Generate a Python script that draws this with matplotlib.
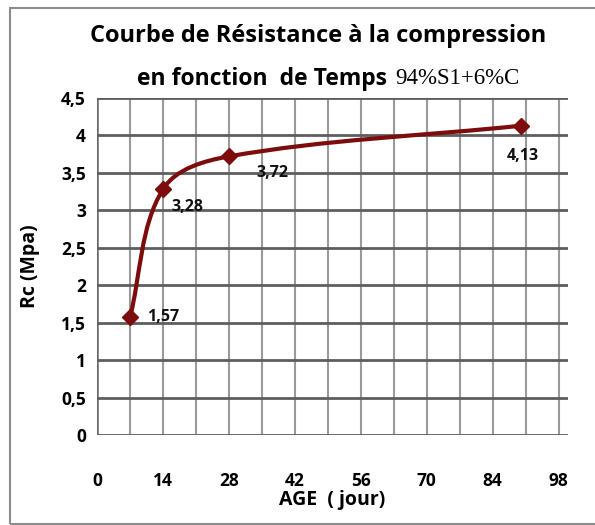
import numpy as np
import matplotlib.pyplot as plt
from matplotlib.path import Path
from matplotlib.patches import PathPatch, Rectangle

# age (jours) et resistance a la compression (MPa)
age = [7, 14, 28, 90]
rc = [1.57, 3.28, 3.72, 4.13]
labels = ['1,57', '3,28', '3,72', '4,13']

x_ticks = [0, 14, 28, 42, 56, 70, 84, 98]
y_ticks = [0, 0.5, 1, 1.5, 2, 2.5, 3, 3.5, 4, 4.5]
y_ticklabels = ['0', '0,5', '1', '1,5', '2', '2,5', '3', '3,5', '4', '4,5']

red = '#7d0c0c'
font = 'Open Sans'


def smooth_path(ax, xs, ys):
    # courbe lissee facon Excel : tangentes calculees en pixels,
    # points de controle a 1/3 de la longueur du segment
    tr = ax.transData
    p = tr.transform(np.column_stack([xs, ys]))
    n = len(p)
    tang = []
    for i in range(n):
        a = p[max(i - 1, 0)]
        b = p[min(i + 1, n - 1)]
        d = b - a
        tang.append(d / np.hypot(*d))
    verts = [p[0]]
    codes = [Path.MOVETO]
    for i in range(n - 1):
        L = np.hypot(*(p[i + 1] - p[i])) / 3
        verts += [p[i] + tang[i] * L, p[i + 1] - tang[i + 1] * L, p[i + 1]]
        codes += [Path.CURVE4] * 3
    verts = tr.inverted().transform(np.array(verts))
    return Path(verts, codes)


fig = plt.figure(figsize=(5.95, 5.25), dpi=100)
fig.patches.append(Rectangle((10 / 595, 1 / 525), 600 / 595, 516 / 525,
                             transform=fig.transFigure, fill=False,
                             edgecolor='#8c8c8c', lw=1.5))

ax = fig.add_axes([97 / 595, 1 - 435 / 525, 471 / 595, 337 / 525])
ax.set_xlim(0, 100)
ax.set_ylim(0, 4.5)

for v in range(7, 99, 7):
    ax.axvline(v, color='#9a9a9a', lw=1.5, zorder=1)
ax.axvline(0, color='#6a6a6a', lw=1.8, zorder=1)
for v in y_ticks:
    ax.axhline(v, color='#5e5e5e', lw=2, zorder=1)

for s in ax.spines.values():
    s.set_visible(False)

ax.set_xticks(x_ticks)
ax.set_xticklabels([str(t) for t in x_ticks])
ax.set_yticks(y_ticks)
ax.set_yticklabels(y_ticklabels)
ax.tick_params(length=0, labelsize=12.5, pad=8)
ax.tick_params(axis='x', pad=27)
for t in ax.get_xticklabels() + ax.get_yticklabels():
    t.set_fontfamily(font)
    t.set_fontweight('bold')

ax.add_patch(PathPatch(smooth_path(ax, age, rc), fill=False, edgecolor=red,
                       lw=3, zorder=3))
ax.plot(age, rc, linestyle='none', marker='D', ms=8, color=red, zorder=4)

offsets = [(12, 0), (6, -13), (20, -12), (-10, -22)]
for x, y, lab, off in zip(age, rc, labels, offsets):
    ax.annotate(lab, (x, y), xytext=off, textcoords='offset points',
                ha='left', va='center', fontsize=11.5, fontweight='bold',
                family=font, color='#111111', zorder=5)

ax.set_xlabel('AGE  ( jour)', fontsize=14, fontweight='bold', family=font,
              labelpad=0)
ax.set_ylabel('Rc (Mpa)', fontsize=14, fontweight='bold', family=font,
              labelpad=2)
ax.yaxis.set_label_coords(-0.12, 0.5)

fig.text(318 / 595, 1 - 36 / 525, 'Courbe de Résistance à la compression',
         ha='center', va='center', fontsize=17, fontweight='bold',
         family=font)
fig.text(387 / 595, 1 - 79 / 525, 'en fonction  de Temps',
         ha='right', va='center', fontsize=16.5, fontweight='bold',
         family=font)
fig.text(395 / 595, 1 - 78 / 525, '94%S1+6%C', ha='left', va='center',
         fontsize=16.5, family='Liberation Serif')

fig.savefig('out.png', dpi=100)
